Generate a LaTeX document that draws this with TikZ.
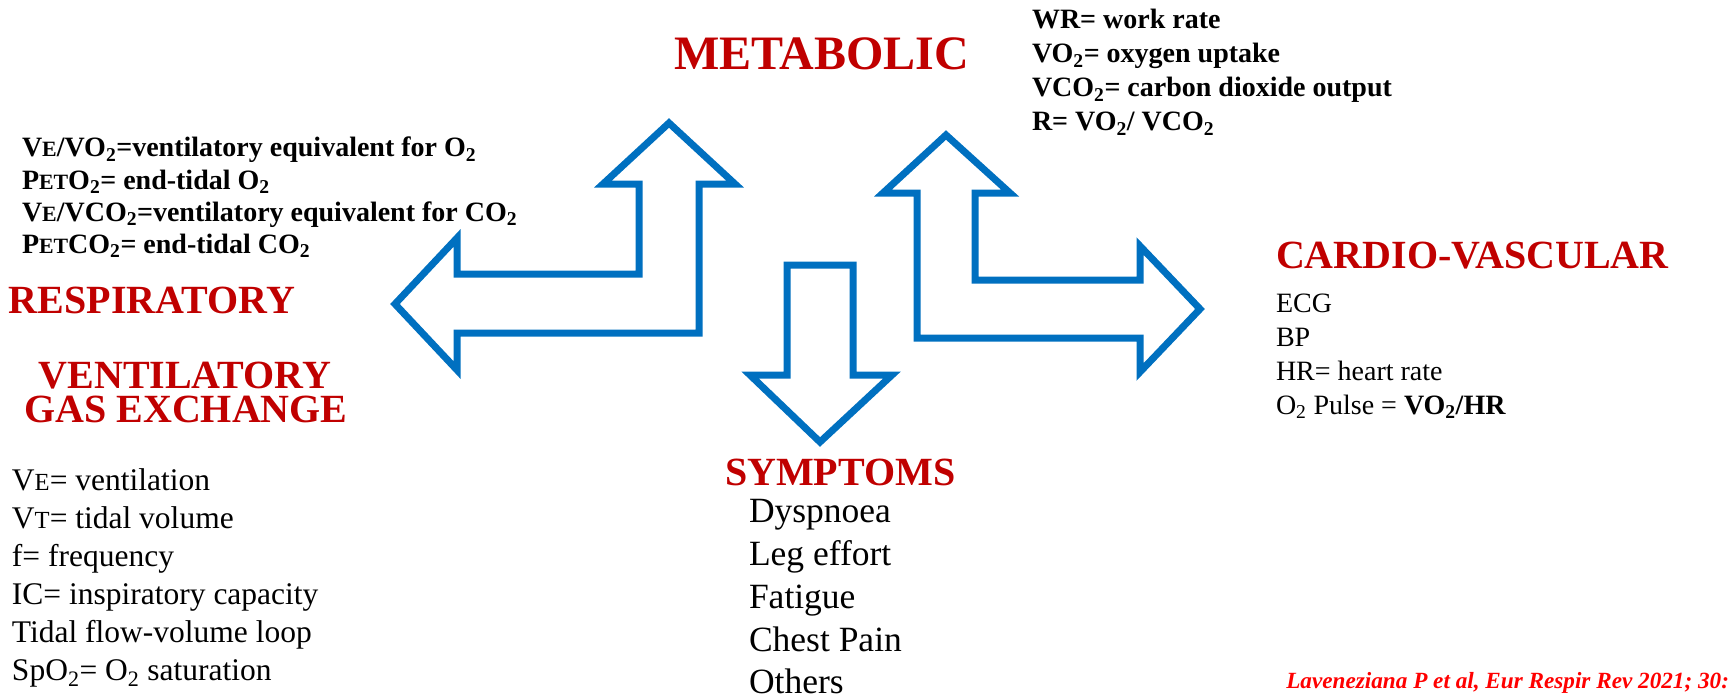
\documentclass[tikz,border=0pt]{standalone}
\usepackage{fontspec}
\setmainfont{Liberation Serif}
\usepackage{graphicx}
\definecolor{headred}{RGB}{192,0,0}
\definecolor{citered}{RGB}{255,0,0}
\definecolor{arrblue}{RGB}{0,112,192}
\newcommand\smcap[1]{\scalebox{0.78}{#1}}
\newcommand\sub[1]{\textsubscript{#1}}
\begin{document}
\begin{tikzpicture}[x=1pt,y=-1pt,
  every node/.style={inner sep=0pt, outer sep=0pt},
  hd/.style={anchor=base west, text=headred, font=\fontsize{40}{42}\selectfont\bfseries},
  bigh/.style={anchor=base west, text=headred, font=\fontsize{48}{50}\selectfont\bfseries},
  bl/.style={anchor=base west, font=\fontsize{28}{32}\selectfont\bfseries},
  lst/.style={anchor=base west, font=\fontsize{31.5}{36}\selectfont},
  sym/.style={anchor=base west, font=\fontsize{35.5}{40}\selectfont},
  car/.style={anchor=base west, font=\fontsize{28}{32}\selectfont},
  cite/.style={anchor=base east, text=citered, font=\fontsize{23.2}{26}\selectfont\bfseries\itshape},
  arr/.style={draw=arrblue, line width=7pt, line join=miter, fill=white}]
\useasboundingbox (0,0) rectangle (1729,698);

% arrows
\draw[arr] (669,123) -- (735,184) -- (699,184) -- (699,333) -- (457,333) -- (457,370)
  -- (395,304) -- (457,238) -- (457,274) -- (639,274) -- (639,184) -- (603,184) -- cycle;
\draw[arr] (946,135) -- (1010,193) -- (975,193) -- (975,280) -- (1140,280) -- (1140,246)
  -- (1200,309) -- (1140,372) -- (1140,338) -- (917,338) -- (917,193) -- (883,193) -- cycle;
\draw[arr] (787,265) -- (853,265) -- (853,375) -- (892,375) -- (820,442) -- (750,375)
  -- (787,375) -- cycle;

% metabolic
\node[bigh] (meta) at (674,70) {METABOLIC};
\node[bl] (m1) at (1032,29) {WR= work rate};
\node[bl] (m2) at (1032,63) {VO\sub{2}= oxygen uptake};
\node[bl] (m3) at (1032,97) {VCO\sub{2}= carbon dioxide output};
\node[bl] (m4) at (1032,131) {R= VO\sub{2}/ VCO\sub{2}};

% respiratory block
\node[bl] (r1) at (22,157) {V\smcap{E}/VO\sub{2}=ventilatory equivalent for O\sub{2}};
\node[bl] (r2) at (22,189) {P\smcap{ET}O\sub{2}= end-tidal O\sub{2}};
\node[bl] (r3) at (22,221) {V\smcap{E}/VCO\sub{2}=ventilatory equivalent for CO\sub{2}};
\node[bl] (r4) at (22,253) {P\smcap{ET}CO\sub{2}= end-tidal CO\sub{2}};
\node[hd] (resp) at (9,313) {RESPIRATORY};
\node[hd, anchor=base, text height=27pt, text depth=1pt] (vent) at (185,388) {VENTILATORY};
\node[hd, anchor=base, text height=27pt, text depth=1pt] (gas) at (186,422) {GAS EXCHANGE};

\node[lst] (l1) at (12,490) {V\smcap{E}= ventilation};
\node[lst] (l2) at (12,528) {V\smcap{T}= tidal volume};
\node[lst] (l3) at (12,566) {f= frequency};
\node[lst] (l4) at (12,604) {IC= inspiratory capacity};
\node[lst] (l5) at (12,642) {Tidal flow-volume loop};
\node[lst] (l6) at (12,680) {SpO\sub{2}= O\sub{2} saturation};

% symptoms
\node[hd] (symp) at (725,485) {SYMPTOMS};
\node[sym] (s1) at (749,522) {Dyspnoea};
\node[sym] (s2) at (749,565) {Leg effort};
\node[sym] (s3) at (749,608) {Fatigue};
\node[sym] (s4) at (749,651) {Chest Pain};
\node[sym] (s5) at (749,693) {Others};

% cardio
\node[hd] (card) at (1276,268) {CARDIO-VASCULAR};
\node[car] (c1) at (1276,312) {ECG};
\node[car] (c2) at (1276,346) {BP};
\node[car] (c3) at (1276,380) {HR= heart rate};
\node[car] (c4) at (1276,414) {O\sub{2} Pulse = \textbf{VO\sub{2}/HR}};

\node[cite] (ref) at (1729,688) {Laveneziana P et al, Eur Respir Rev 2021; 30:};
\end{tikzpicture}
\end{document}
